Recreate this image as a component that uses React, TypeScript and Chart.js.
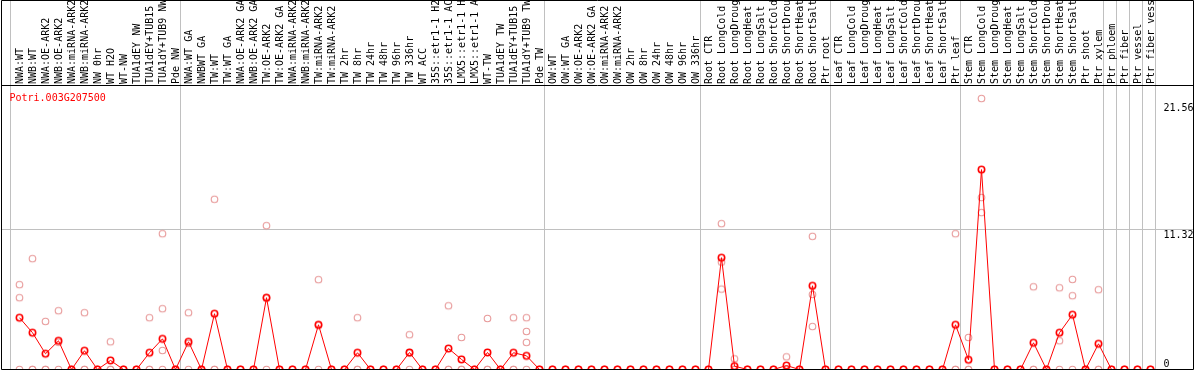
import React, { useEffect, useRef } from "react";
import { Chart, registerables } from "chart.js";

Chart.register(...registerables);

const title = "Potri.003G207500";

const categories: string[] = [
  "NWA:WT", "NWB:WT", "NWA:OE-ARK2", "NWB:OE-ARK2", "NWA:miRNA-ARK2", "NWB:miRNA-ARK2",
  "NW 0hr", "WT H2O", "WT-NW", "TUA1dEY NW", "TUA1dEY+TUB15", "TUA1dY+TUB9 NW", "Pde NW",
  "NWA:WT GA", "NWBWT GA", "TW:WT", "TW:WT GA", "NWA:OE-ARK2 GA", "NWB:OE-ARK2 GA",
  "TW:OE-ARK2", "TW:OE-ARK2 GA", "NWA:miRNA-ARK2", "NWB:miRNA-ARK2", "TW:miRNA-ARK2",
  "TW:miRNA-ARK2", "TW 2hr", "TW 8hr", "TW 24hr", "TW 48hr", "TW 96hr", "TW 336hr",
  "WT ACC", "35S::etr1-1 H2", "35S::etr1-1 AC", "LMX5::etr1-1 H", "LMX5::etr1-1 A",
  "WT-TW", "TUA1dEY TW", "TUA1dEY+TUB15", "TUA1dY+TUB9 TW", "Pde TW",
  "OW:WT", "OW:WT GA", "OW:OE-ARK2", "OW:OE-ARK2 GA", "OW:miRNA-ARK2", "OW:miRNA-ARK2",
  "OW 2hr", "OW 8hr", "OW 24hr", "OW 48hr", "OW 96hr", "OW 336hr",
  "Root CTR", "Root LongCold", "Root LongDroug", "Root LongHeat", "Root LongSalt",
  "Root ShortCold", "Root ShortDrou", "Root ShortHeat", "Root ShortSalt", "Ptr root",
  "Leaf CTR", "Leaf LongCold", "Leaf LongDroug", "Leaf LongHeat", "Leaf LongSalt",
  "Leaf ShortCold", "Leaf ShortDrou", "Leaf ShortHeat", "Leaf ShortSalt", "Ptr leaf",
  "Stem CTR", "Stem LongCold", "Stem LongDroug", "Stem LongHeat", "Stem LongSalt",
  "Stem ShortCold", "Stem ShortDrou", "Stem ShortHeat", "Stem ShortSalt", "Ptr shoot",
  "Ptr xylem", "Ptr phloem", "Ptr fiber", "Ptr vessel", "Ptr fiber vess",
];

const means: number[] = [
  4.17, 2.96, 1.27, 2.31, 0, 1.51, 0, 0.73, 0, 0,
  1.35, 2.47, 0, 2.23, 0, 4.49, 0, 0, 0, 5.78,
  0, 0, 0, 3.6, 0, 0, 1.35, 0, 0, 0,
  1.37, 0, 0, 1.69, 0.81, 0, 1.37, 0, 1.35, 1.1,
  0, 0, 0, 0, 0, 0, 0, 0, 0, 0,
  0, 0, 0, 0, 9.0, 0.27, 0, 0, 0, 0.32,
  0, 6.74, 0, 0, 0, 0, 0, 0, 0, 0,
  0, 0, 3.6, 0.78, 16.09, 0, 0, 0, 2.15, 0,
  2.96, 4.41, 0, 2.07, 0, 0, 0, 0,
];

const rep1: number[] = [
  6.83, 8.92, 3.87, 4.73, 0, 4.57, 0, 2.23, 0, 0,
  4.17, 10.93, 0, 4.57, 0, 13.7, 0, 0, 0, 11.58,
  0, 0, 0, 7.23, 0, 0, 4.17, 0, 0, 0,
  2.8, 0, 0, 5.13, 2.58, 0, 4.11, 0, 4.17, 4.17,
  0, 0, 0, 0, 0, 0, 0, 0, 0, 0,
  0, 0, 0, 0, 11.74, 0.86, 0, 0, 0, 1.02,
  0, 10.72, 0, 0, 0, 0, 0, 0, 0, 0,
  0, 0, 10.93, 2.58, 21.81, 0, 0, 0, 6.66, 0,
  6.58, 7.25, 0, 6.42, 0, 0, 0, 0,
];

const rep2: number[] = [
  5.78, 0, 0, 2.2, 0, 0, 0, 0, 0, 0,
  0, 4.89, 0, 2.1, 0, 0, 0, 0, 0, 5.76,
  0, 0, 0, 3.57, 0, 0, 0, 0, 0, 0,
  1.31, 0, 0, 0, 0, 0, 0, 0, 0, 3.06,
  0, 0, 0, 0, 0, 0, 0, 0, 0, 0,
  0, 0, 0, 0, 8.65, 0, 0, 0, 0, 0,
  0, 6.04, 0, 0, 0, 0, 0, 0, 0, 0,
  0, 0, 0, 0, 13.84, 0, 0, 0, 0, 0,
  2.31, 5.94, 0, 0, 0, 0, 0, 0,
];

const rep3: number[] = [
  0, 0, 0, 0, 0, 0, 0, 0, 0, 0,
  0, 1.53, 0, 0, 0, 0, 0, 0, 0, 0,
  0, 0, 0, 0, 0, 0, 0, 0, 0, 0,
  0, 0, 0, 0, 0, 0, 0, 0, 0, 2.18,
  0, 0, 0, 0, 0, 0, 0, 0, 0, 0,
  0, 0, 0, 0, 6.47, 0, 0, 0, 0, 0,
  0, 3.46, 0, 0, 0, 0, 0, 0, 0, 0,
  0, 0, 0, 0, 12.63, 0, 0, 0, 0, 0,
  0, 0, 0, 0, 0, 0, 0, 0,
];

// extra replicate only present in two conditions
const rep4: (number | null)[] = categories.map((_, i) => (i === 11 || i === 39 ? 0 : null));

const yTickValues: number[] = [0, 11.32, 21.56];
const yGridValues: number[] = [11.32];
// index of last category in each separated group
const groupEnds: number[] = [12, 40, 52, 62, 72, 83, 84, 85, 86, 87];

const X_MIN = -18.5 / 13;
const X_MAX = X_MIN + 1192 / 13;
const Y_MAX = 22.9;

const FONT = '10px "DejaVu Sans Mono", "Liberation Mono", monospace';
const GRAY = "#c0c0c0";

function makeMarker(color: string, radius: number, lw: number): HTMLCanvasElement {
  const c = document.createElement("canvas");
  c.width = 11;
  c.height = 11;
  const g = c.getContext("2d")!;
  g.strokeStyle = color;
  g.lineWidth = lw;
  g.beginPath();
  g.arc(5.5, 5.5, radius, 0, Math.PI * 2);
  g.stroke();
  return c;
}

export default function App() {
  const ref = useRef<HTMLCanvasElement | null>(null);

  useEffect(() => {
    const canvas = ref.current;
    if (!canvas) return;
    const meanImg = makeMarker("#ff0000", 3.2, 1.6);
    const repImg = makeMarker("#e89a9a", 3.3, 1.1);

    const framePlugin = {
      id: "frame",
      beforeDatasetsDraw(chart: any) {
        const { ctx, chartArea: a, scales } = chart;
        const x = scales.x;
        const y = scales.y;
        ctx.save();
        ctx.strokeStyle = GRAY;
        ctx.lineWidth = 1;
        const seps = [x.getPixelForValue(0) - 9.3, ...groupEnds.map((k) => x.getPixelForValue(k) + 5)];
        for (const p of seps) {
          const X = Math.floor(p) + 0.5;
          ctx.beginPath();
          ctx.moveTo(X, 0);
          ctx.lineTo(X, a.bottom);
          ctx.stroke();
        }
        for (const v of yGridValues) {
          const Y = Math.round(y.getPixelForValue(v)) + 0.5;
          ctx.beginPath();
          ctx.moveTo(a.left, Y);
          ctx.lineTo(a.right, Y);
          ctx.stroke();
        }
        // category labels (rotated)
        ctx.font = FONT;
        ctx.fillStyle = "#000";
        ctx.textAlign = "left";
        ctx.textBaseline = "alphabetic";
        categories.forEach((lab, i) => {
          const px = x.getPixelForValue(i);
          ctx.save();
          ctx.translate(px + 3, a.top - 1);
          ctx.rotate(-Math.PI / 2);
          ctx.fillText(lab, 0, 0);
          ctx.restore();
        });
        // title
        ctx.fillStyle = "#ff0000";
        ctx.fillText(title, 9.5, 100.5);
        // y tick labels
        ctx.fillStyle = "#000";
        for (const v of yTickValues) {
          const py = y.getPixelForValue(v);
          const base = Math.min(py + 9, a.bottom - 3);
          ctx.fillText(String(v), 1163.5, base);
        }
        ctx.restore();
      },
      afterDatasetsDraw(chart: any) {
        const { ctx } = chart;
        ctx.save();
        ctx.strokeStyle = "#000";
        ctx.lineWidth = 1;
        ctx.beginPath();
        ctx.moveTo(1.5, 0.5);
        ctx.lineTo(1193.5, 0.5);
        ctx.lineTo(1193.5, 369.5);
        ctx.lineTo(1.5, 369.5);
        ctx.closePath();
        ctx.moveTo(1, 85.5);
        ctx.lineTo(1194, 85.5);
        ctx.stroke();
        ctx.restore();
      },
    };

    const toPts = (arr: (number | null)[]) =>
      arr.map((v, i) => (v === null ? null : { x: i, y: v })).filter((p) => p !== null);

    const repDataset = (arr: (number | null)[]) => ({
      data: toPts(arr),
      showLine: false,
      pointStyle: repImg,
      pointRadius: 5,
      borderColor: "#e89a9a",
      backgroundColor: "#e89a9a",
      clip: false,
      order: 1,
    });

    const chart = new Chart(canvas, {
      type: "line",
      data: {
        datasets: [
          {
            data: toPts(means),
            borderColor: "#ff0000",
            backgroundColor: "#ff0000",
            borderWidth: 1,
            pointStyle: meanImg,
            pointRadius: 5,
            tension: 0,
            clip: false,
            order: 0,
          } as any,
          repDataset(rep1) as any,
          repDataset(rep2) as any,
          repDataset(rep3) as any,
          repDataset(rep4) as any,
        ],
      },
      options: {
        animation: false,
        responsive: false,
        devicePixelRatio: 1,
        events: [],
        layout: { autoPadding: false, padding: { left: 1, right: 1, top: 85, bottom: 0.5 } },
        scales: {
          x: { type: "linear", min: X_MIN, max: X_MAX, display: false, bounds: "data" },
          y: { type: "linear", min: 0, max: Y_MAX, display: false, bounds: "data" },
        },
        plugins: {
          legend: { display: false },
          tooltip: { enabled: false },
          title: { display: false },
        },
      } as any,
      plugins: [framePlugin],
    });
    return () => chart.destroy();
  }, []);

  return (
    <div style={{ position: "absolute", left: 0, top: 0, width: 1194, height: 370, background: "#fff" }}>
      <canvas ref={ref} width={1194} height={370} style={{ display: "block" }} />
    </div>
  );
}
